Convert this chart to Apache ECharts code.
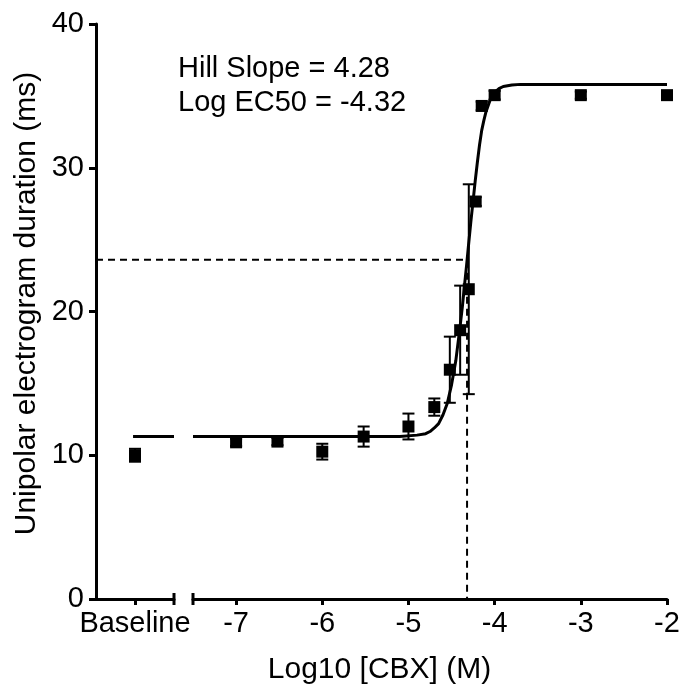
<!DOCTYPE html>
<html>
<head>
<meta charset="utf-8">
<script src="https://cdn.jsdelivr.net/npm/echarts@6/dist/echarts.min.js"></script>
<style>
html, body { margin: 0; padding: 0; background: #fff; }
#chart { width: 683px; height: 689px; }
</style>
</head>
<body>
<div id="chart"></div>
<script>
// CBX doses (log10 M) with mean duration (ms) and error
const doseLog = [-7, -6.52, -6, -5.52, -5, -4.7, -4.52, -4.4, -4.3, -4.22, -4.15, -4, -3, -2];
const duration = [10.9, 10.95, 10.25, 11.3, 12.0, 13.35, 15.95, 18.7, 21.55, 27.65, 34.3, 35.05, 35.05, 35.05];
const durationErr = [0.25, 0.25, 0.55, 0.7, 0.9, 0.6, 2.3, 3.1, 7.3, 0.3, 0.3, 0.3, 0.25, 0.25];

const baselineValue = 10.0;
const baselineErr = 0.45;

// fitted curve as it is drawn
const curveX = [-7.5, -5.4, -5.1, -4.9, -4.8, -4.75, -4.7, -4.65, -4.6, -4.55, -4.5, -4.45, -4.4, -4.375, -4.35, -4.325, -4.3, -4.275, -4.25, -4.225, -4.2, -4.175, -4.15, -4.125, -4.1, -4.05, -4.0, -3.95, -3.9, -3.8, -3.7, -3.6, -3.3, -2];
const curveY = [11.3, 11.3, 11.3, 11.4, 11.5, 11.65, 11.9, 12.2, 12.8, 13.6, 14.9, 16.6, 19.0, 20.3, 21.8, 23.25, 24.8, 26.3, 27.7, 29.1, 30.4, 31.6, 32.6, 33.3, 33.9, 34.75, 35.25, 35.5, 35.65, 35.75, 35.8, 35.8, 35.8, 35.8];
const baselineCurveX = [0.95, 2];
const bottomPlateau = 11.3;

const hillSlope = 4.28;
const logEC50 = -4.32;
const halfResponse = 23.6;

const xTicks = [-7, -6, -5, -4, -3, -2];

const font = 'Liberation Sans, Arial, sans-serif';
const yAxisLeft = 96;

function errorBar(params, api) {
    const x = api.value(0), y = api.value(1), e = api.value(2);
    const top = api.coord([x, y + e]);
    const bot = api.coord([x, y - e]);
    const half = 6;
    const style = { stroke: '#000', lineWidth: 2 };
    return {
        type: 'group',
        children: [
            { type: 'line', shape: { x1: top[0], y1: top[1], x2: bot[0], y2: bot[1] }, style: style },
            { type: 'line', shape: { x1: top[0] - half, y1: top[1], x2: top[0] + half, y2: top[1] }, style: style },
            { type: 'line', shape: { x1: bot[0] - half, y1: bot[1], x2: bot[0] + half, y2: bot[1] }, style: style }
        ]
    };
}

// dashed guide: from the y axis across to EC50, then down to zero
function ecGuide(params, api) {
    const mid = api.coord([api.value(0), api.value(1)]);
    const foot = api.coord([api.value(0), 0]);
    return {
        type: 'polyline',
        shape: { points: [[yAxisLeft, mid[1]], mid, foot] },
        style: { stroke: '#000', lineWidth: 2, lineDash: [7, 5], fill: null }
    };
}

const axisLine = { lineStyle: { color: '#000', width: 3 } };
const tickStyle = { lineStyle: { color: '#000', width: 3 } };

const chart = echarts.init(document.getElementById('chart'));
chart.setOption({
    animation: false,
    backgroundColor: '#fff',
    grid: [
        { left: yAxisLeft, top: 24, width: 78, bottom: 90 },
        { left: 193, top: 24, right: 16, bottom: 90 }
    ],
    xAxis: [
        {
            gridIndex: 0, type: 'value', min: 0, max: 2,
            axisLine: Object.assign({ symbol: ['none', 'rect'], symbolSize: [12, 3] }, axisLine),
            axisTick: Object.assign({ length: 6, customValues: [1] }, tickStyle),
            axisLabel: {
                customValues: [1], margin: 10, color: '#000', fontSize: 29, fontFamily: font,
                formatter: () => 'Baseline'
            },
            splitLine: { show: false }
        },
        {
            gridIndex: 1, type: 'value', min: -7.5, max: -2,
            axisLine: Object.assign({ symbol: ['rect', 'none'], symbolSize: [12, 3] }, axisLine),
            axisTick: Object.assign({ length: 6, customValues: xTicks }, tickStyle),
            axisLabel: { customValues: xTicks, margin: 10, color: '#000', fontSize: 29, fontFamily: font },
            splitLine: { show: false }
        }
    ],
    yAxis: [
        {
            gridIndex: 0, type: 'value', min: 0, max: 40, interval: 10,
            name: 'Unipolar electrogram duration (ms)',
            nameLocation: 'middle', nameGap: 54,
            nameTextStyle: { color: '#000', fontSize: 30, fontFamily: font, padding: [0, 0, 0, 16] },
            axisLine: axisLine,
            axisTick: Object.assign({ length: 7 }, tickStyle),
            axisLabel: { margin: 12, color: '#000', fontSize: 29, fontFamily: font },
            splitLine: { show: false }
        },
        {
            gridIndex: 1, type: 'value', min: 0, max: 40, interval: 10, show: false,
            splitLine: { show: false }
        }
    ],
    graphic: [
        { type: 'text', x: 379.5, y: 655, style: { text: 'Log10 [CBX] (M)', font: '30px ' + font, fill: '#000', align: 'center', verticalAlign: 'top' } },
        { type: 'text', x: 178, y: 69, style: { text: 'Hill Slope = ' + hillSlope, font: '29px ' + font, fill: '#000', verticalAlign: 'middle' } },
        { type: 'text', x: 178, y: 103, style: { text: 'Log EC50 = ' + logEC50, font: '29px ' + font, fill: '#000', verticalAlign: 'middle' } }
    ],
    series: [
        {
            type: 'custom', xAxisIndex: 1, yAxisIndex: 1, renderItem: ecGuide, silent: true,
            encode: { x: 0, y: 1 },
            data: [[logEC50, halfResponse]]
        },
        {
            type: 'line', xAxisIndex: 0, yAxisIndex: 0, symbol: 'none', silent: true,
            lineStyle: { color: '#000', width: 3 },
            data: baselineCurveX.map(x => [x, bottomPlateau])
        },
        {
            type: 'line', xAxisIndex: 1, yAxisIndex: 1, symbol: 'none', silent: true,
            lineStyle: { color: '#000', width: 3 },
            data: curveX.map((x, i) => [x, curveY[i]])
        },
        {
            type: 'custom', xAxisIndex: 0, yAxisIndex: 0, renderItem: errorBar, silent: true,
            encode: { x: 0, y: 1 },
            data: [[1, baselineValue, baselineErr]]
        },
        {
            type: 'custom', xAxisIndex: 1, yAxisIndex: 1, renderItem: errorBar, silent: true,
            encode: { x: 0, y: 1 },
            data: doseLog.map((x, i) => [x, duration[i], durationErr[i]])
        },
        {
            type: 'scatter', xAxisIndex: 0, yAxisIndex: 0, symbol: 'rect', symbolSize: 12, silent: true,
            itemStyle: { color: '#000', opacity: 1 },
            data: [[1, baselineValue]]
        },
        {
            type: 'scatter', xAxisIndex: 1, yAxisIndex: 1, symbol: 'rect', symbolSize: 12, silent: true,
            itemStyle: { color: '#000', opacity: 1 },
            data: doseLog.map((x, i) => [x, duration[i]])
        }
    ]
});
</script>
</body>
</html>
